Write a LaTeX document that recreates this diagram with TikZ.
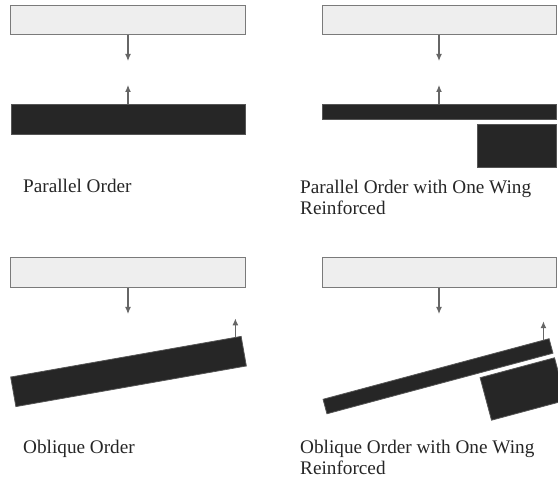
\documentclass[tikz,border=0pt]{standalone}
\usepackage{fontspec}
\setmainfont{Liberation Serif}
\usetikzlibrary{arrows.meta,calc}
\definecolor{loadfill}{HTML}{EEEEEE}
\definecolor{edgegray}{HTML}{7A7A7A}
\definecolor{beamdark}{HTML}{262626}
\definecolor{arrowgray}{HTML}{666666}

\begin{document}
\begin{tikzpicture}[
  x=1bp, y=1bp,
  loadbox/.style={draw=edgegray, fill=loadfill, line width=1bp, inner sep=0pt,
               outer sep=0pt, minimum width=234bp, minimum height=29bp},
  beam/.style={draw=edgegray!70!black, fill=beamdark, line width=0.8bp, inner sep=0pt,
               outer sep=0pt, minimum width=234bp, minimum height=30bp},
  thinbeam/.style={beam, minimum height=15bp},
  wing/.style={beam, minimum width=79bp, minimum height=43bp},
  force/.style={-{Latex[length=7bp, width=6bp]}, line width=1.2bp, arrowgray},
  caption/.style={anchor=base west, align=left, inner sep=0pt, text=black!85,
               font=\fontsize{19.3}{21.5}\selectfont},
]
  \useasboundingbox (0,0) rectangle (558,484);

  % Parallel order, top left.
  \node[loadbox] (loadA) at (128,463.5) {};
  \node[beam] (barA) at (128,365) {};
  \coordinate (pA) at (128,423);
  \coordinate (rA) at (128,399);
  \draw[force] (loadA.south) -- (pA);
  \draw[force] (barA.north) -- (rA);
  \node[caption] (capA) at (23,291) {Parallel Order};

  % Parallel order with the wing block underneath.
  \node[loadbox] (loadB) at (439,463.5) {};
  \node[thinbeam] (barB) at (439,372.5) {};
  \node[wing] (wingB) at (516.5,338.5) {};
  \coordinate (pB) at (439,423);
  \coordinate (rB) at (439,399);
  \draw[force] (loadB.south) -- (pB);
  \draw[force] (barB.north) -- (rB);
  % base of a two-line node sits on its last line
  \node[caption] (capB) at (300,269) {Parallel Order with One Wing\\Reinforced};

  % Oblique order, bottom left.
  \node[loadbox, minimum height=30bp] (loadC) at (128,211) {};
  \node[beam, rotate=10] (barC) at (128.5,112.5) {};
  \coordinate (pC) at (128,170);
  \coordinate (sC) at ($(barC.north east)!0.025!(barC.north west)$);
  \coordinate (rC) at ($(sC)+(0,19)$);
  \draw[force] (loadC.south) -- (pC);
  \draw[force] (sC) -- (rC);
  \node[caption] (capC) at (23,30) {Oblique Order};

  % Oblique order with the wing block, bottom right.
  \node[loadbox, minimum height=30bp] (loadD) at (439,211) {};
  \node[thinbeam, rotate=15] (barD) at (438,107.75) {};
  \node[wing, minimum width=77bp, minimum height=44bp, rotate=15] (wingD) at (523,95) {};
  \coordinate (pD) at (439,170);
  \coordinate (sD) at ($(barD.north east)!0.025!(barD.north west)$);
  \coordinate (rD) at ($(sD)+(0,19)$);
  \draw[force] (loadD.south) -- (pD);
  \draw[force] (sD) -- (rD);
  \node[caption] (capD) at (300,9) {Oblique Order with One Wing\\Reinforced};
\end{tikzpicture}
\end{document}
